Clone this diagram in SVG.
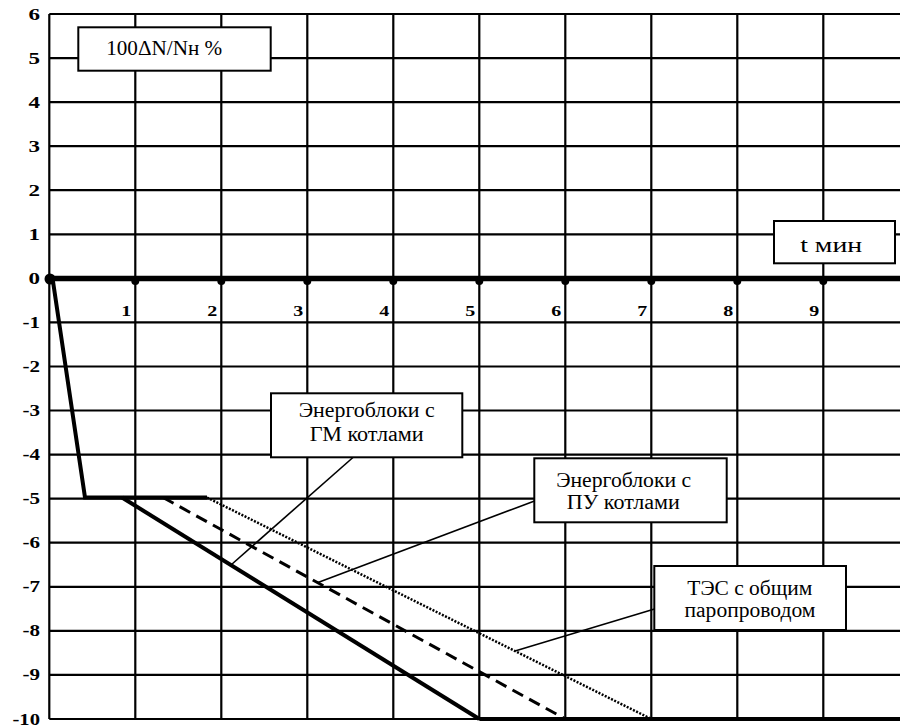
<svg xmlns="http://www.w3.org/2000/svg" width="900" height="726" viewBox="0 0 900 726">
<style>
.grid{stroke:#000;stroke-width:2.2;fill:none}
.ylab{font-family:"Liberation Serif","Times New Roman",serif;font-weight:bold;font-size:16px;text-anchor:end}
.xlab{font-family:"Liberation Serif","Times New Roman",serif;font-weight:bold;font-size:15px;text-anchor:end}
.box{fill:#fff;stroke:#000;stroke-width:2}
.lbl{font-family:"Liberation Serif","Times New Roman",serif;font-size:20px;text-anchor:middle}
.lead{stroke:#000;stroke-width:1.6;fill:none}
.solid{stroke:#000;stroke-width:4;fill:none;stroke-linejoin:miter}
.dash{stroke:#000;stroke-width:3;stroke-dasharray:12 7;fill:none}
.dot{stroke:#000;stroke-width:2.5;stroke-dasharray:2 1.5;fill:none}
</style>
<rect width="900" height="726" fill="#fff"/>
<g id="grid">
<path class="grid" d="M49.3 14V719M135.3 14V719M221.3 14V719M307.3 14V719M393.3 14V719M479.3 14V719M565.3 14V719M651.3 14V719M737.3 14V719M823.3 14V719"/>
<path class="grid" d="M49.3 14H900M49.3 58.1H900M49.3 102.1H900M49.3 146.2H900M49.3 190.2H900M49.3 234.3H900M49.3 322.4H900M49.3 366.5H900M49.3 410.5H900M49.3 454.6H900M49.3 498.7H900M49.3 542.7H900M49.3 586.8H900M49.3 630.8H900M49.3 674.9H900M49.3 719H900"/>
</g>
<g id="x-axis">
<line x1="49.3" y1="278.5" x2="900" y2="278.5" stroke="#000" stroke-width="5.5"/>
<circle cx="50" cy="279" r="5.5"/>
<circle cx="135.3" cy="281" r="4"/>
<circle cx="221.3" cy="281" r="4"/>
<circle cx="307.3" cy="281" r="4"/>
<circle cx="393.3" cy="281" r="4"/>
<circle cx="479.3" cy="281" r="4"/>
<circle cx="565.3" cy="281" r="4"/>
<circle cx="651.3" cy="281" r="4"/>
<circle cx="737.3" cy="281" r="4"/>
<circle cx="823.3" cy="281" r="4"/>
</g>
<g id="y-labels">
<text class="ylab" x="40" y="19.5" textLength="11.5" lengthAdjust="spacingAndGlyphs">6</text>
<text class="ylab" x="40" y="63.6" textLength="11.5" lengthAdjust="spacingAndGlyphs">5</text>
<text class="ylab" x="40" y="107.6" textLength="11.5" lengthAdjust="spacingAndGlyphs">4</text>
<text class="ylab" x="40" y="151.7" textLength="11.5" lengthAdjust="spacingAndGlyphs">3</text>
<text class="ylab" x="40" y="195.7" textLength="11.5" lengthAdjust="spacingAndGlyphs">2</text>
<text class="ylab" x="40" y="239.8" textLength="11.5" lengthAdjust="spacingAndGlyphs">1</text>
<text class="ylab" x="40" y="283.9" textLength="11.5" lengthAdjust="spacingAndGlyphs">0</text>
<text class="ylab" x="40" y="327.9" textLength="17.5" lengthAdjust="spacingAndGlyphs">-1</text>
<text class="ylab" x="40" y="372" textLength="17.5" lengthAdjust="spacingAndGlyphs">-2</text>
<text class="ylab" x="40" y="416" textLength="17.5" lengthAdjust="spacingAndGlyphs">-3</text>
<text class="ylab" x="40" y="460.1" textLength="17.5" lengthAdjust="spacingAndGlyphs">-4</text>
<text class="ylab" x="40" y="504.2" textLength="17.5" lengthAdjust="spacingAndGlyphs">-5</text>
<text class="ylab" x="40" y="548.2" textLength="17.5" lengthAdjust="spacingAndGlyphs">-6</text>
<text class="ylab" x="40" y="592.3" textLength="17.5" lengthAdjust="spacingAndGlyphs">-7</text>
<text class="ylab" x="40" y="636.3" textLength="17.5" lengthAdjust="spacingAndGlyphs">-8</text>
<text class="ylab" x="40" y="680.4" textLength="17.5" lengthAdjust="spacingAndGlyphs">-9</text>
<text class="ylab" x="40" y="724.5" textLength="27.5" lengthAdjust="spacingAndGlyphs">-10</text>
</g>
<g id="x-labels">
<text class="xlab" x="131.3" y="316" textLength="10" lengthAdjust="spacingAndGlyphs">1</text>
<text class="xlab" x="217.3" y="316" textLength="10" lengthAdjust="spacingAndGlyphs">2</text>
<text class="xlab" x="303.3" y="316" textLength="10" lengthAdjust="spacingAndGlyphs">3</text>
<text class="xlab" x="389.3" y="316" textLength="10" lengthAdjust="spacingAndGlyphs">4</text>
<text class="xlab" x="475.3" y="316" textLength="10" lengthAdjust="spacingAndGlyphs">5</text>
<text class="xlab" x="561.3" y="316" textLength="10" lengthAdjust="spacingAndGlyphs">6</text>
<text class="xlab" x="647.3" y="316" textLength="10" lengthAdjust="spacingAndGlyphs">7</text>
<text class="xlab" x="733.3" y="316" textLength="10" lengthAdjust="spacingAndGlyphs">8</text>
<text class="xlab" x="819.3" y="316" textLength="10" lengthAdjust="spacingAndGlyphs">9</text>
</g>
<g id="connectors">
<polyline class="solid" points="52.5,278 85,497.5 207,497.5"/>
<line class="solid" x1="122" y1="497.5" x2="479.3" y2="719"/>
<line class="solid" x1="479.3" y1="719" x2="900" y2="719"/>
<line class="dash" x1="163" y1="497.5" x2="565.3" y2="719"/>
<line class="dot" x1="207" y1="497.5" x2="651.3" y2="719"/>
<line class="lead" x1="353.5" y1="457" x2="231.5" y2="564.5"/>
<line class="lead" x1="534.5" y1="501" x2="318" y2="582.5"/>
<line class="lead" x1="654.5" y1="609" x2="515" y2="651"/>
</g>
<g id="node-ylabel">
<rect class="box" x="78.3" y="27.3" width="192.4" height="43.4"/>
<text class="lbl" x="164.2" y="55" textLength="116" lengthAdjust="spacingAndGlyphs">100ΔN/Nн %</text>
</g>
<g id="node-xlabel">
<rect class="box" x="774" y="221" width="121" height="42.3"/>
<text class="lbl" x="831.2" y="251.7" textLength="62" lengthAdjust="spacingAndGlyphs">t мин</text>
</g>
<g id="node-gm">
<rect class="box" x="271" y="393.3" width="191.3" height="64"/>
<text class="lbl" x="366.7" y="417.3" textLength="136" lengthAdjust="spacingAndGlyphs">Энергоблоки с</text>
<text class="lbl" x="366.7" y="441" textLength="114" lengthAdjust="spacingAndGlyphs">ГМ котлами</text>
</g>
<g id="node-pu">
<rect class="box" x="534.3" y="458.3" width="192.4" height="64"/>
<text class="lbl" x="623.7" y="486.5" textLength="135" lengthAdjust="spacingAndGlyphs">Энергоблоки с</text>
<text class="lbl" x="623.3" y="509" textLength="113" lengthAdjust="spacingAndGlyphs">ПУ котлами</text>
</g>
<g id="node-tes">
<rect class="box" x="654.3" y="566" width="191.7" height="64"/>
<text class="lbl" x="749.8" y="595" textLength="125" lengthAdjust="spacingAndGlyphs">ТЭС с общим</text>
<text class="lbl" x="750" y="616.7" textLength="131" lengthAdjust="spacingAndGlyphs">паропроводом</text>
</g>
</svg>
